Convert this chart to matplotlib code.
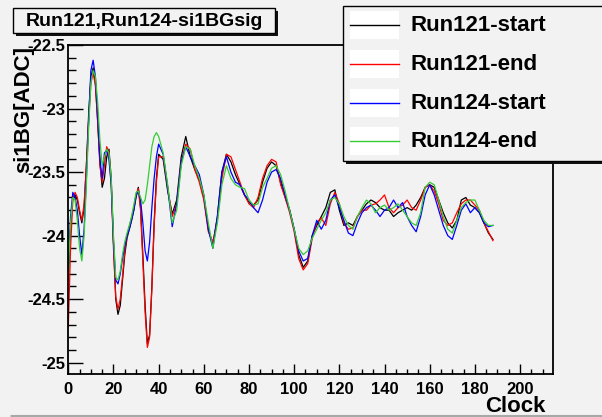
import matplotlib
matplotlib.use("Agg")
import matplotlib.pyplot as plt
from matplotlib.patches import Rectangle
from matplotlib.ticker import MultipleLocator

# ---------------- data ----------------
clocks = list(range(0, 41)) + list(range(42, 190, 2))

run121_start = [
    -24.35, -23.95, -23.70, -23.68, -23.72, -23.82, -23.90, -23.78, -23.45, -23.05,
    -22.75, -22.68, -22.80, -23.10, -23.42, -23.62, -23.55, -23.38, -23.32, -23.55,
    -24.05, -24.50, -24.62, -24.55, -24.35, -24.15, -24.02, -23.95, -23.88, -23.80,
    -23.70, -23.62, -23.78, -24.15, -24.55, -24.85, -24.78, -24.40, -23.90, -23.55,
    -23.36,
    -23.40, -23.65, -23.83, -23.72, -23.38, -23.22, -23.38, -23.48, -23.56, -23.70,
    -23.95, -24.07, -23.85, -23.50, -23.36, -23.42, -23.52, -23.60, -23.68, -23.74,
    -23.76, -23.72, -23.58, -23.47, -23.42, -23.45, -23.58, -23.70, -23.80, -23.95,
    -24.15, -24.25, -24.20, -24.00, -23.92, -23.85, -23.78, -23.66, -23.64, -23.80,
    -23.92, -23.90, -23.92, -23.85, -23.80, -23.75, -23.72, -23.74, -23.78, -23.80,
    -23.80, -23.85, -23.82, -23.80, -23.78, -23.80, -23.76, -23.70, -23.62, -23.60,
    -23.62, -23.72, -23.82, -23.90, -23.94, -23.88, -23.72, -23.70, -23.76, -23.78,
    -23.82, -23.90, -23.98, -24.03,
]

run121_end = [
    -24.72, -24.10, -23.72, -23.66, -23.70, -23.80, -23.88, -23.75, -23.45, -23.10,
    -22.80, -22.72, -22.82, -23.10, -23.45, -23.58, -23.45, -23.30, -23.35, -23.60,
    -24.10, -24.48, -24.58, -24.50, -24.32, -24.12, -24.00, -23.93, -23.86, -23.78,
    -23.68, -23.63, -23.80, -24.20, -24.60, -24.88, -24.80, -24.42, -23.92, -23.58,
    -23.38,
    -23.38, -23.62, -23.85, -23.75, -23.42, -23.28, -23.32, -23.48, -23.58, -23.72,
    -23.97, -24.05, -23.88, -23.55, -23.36, -23.38, -23.48, -23.58, -23.68, -23.75,
    -23.78, -23.70, -23.55, -23.45, -23.40, -23.42, -23.60, -23.70, -23.82, -23.97,
    -24.18, -24.27, -24.22, -24.02, -23.90, -23.86, -23.92, -23.75, -23.66, -23.75,
    -23.90, -23.95, -23.94, -23.85, -23.80, -23.80, -23.76, -23.75, -23.72, -23.68,
    -23.78, -23.82, -23.78, -23.76, -23.72, -23.78, -23.80, -23.72, -23.62, -23.60,
    -23.65, -23.75, -23.88, -23.92, -23.90, -23.82, -23.75, -23.72, -23.72, -23.76,
    -23.80, -23.90, -23.97, -24.04,
]

run124_start = [
    -24.25, -23.85, -23.66, -23.70, -23.80, -24.00, -24.15, -23.95, -23.55, -23.10,
    -22.70, -22.62, -22.75, -23.05, -23.40, -23.55, -23.35, -23.33, -23.40, -23.60,
    -24.05, -24.35, -24.38, -24.30, -24.18, -24.08, -24.00, -23.95, -23.88, -23.80,
    -23.68, -23.65, -23.72, -23.90, -24.12, -24.20, -24.05, -23.78, -23.55, -23.38,
    -23.28,
    -23.36, -23.62, -23.93, -23.75, -23.42, -23.30, -23.38, -23.45, -23.52, -23.68,
    -23.95, -24.10, -23.85, -23.50, -23.38, -23.50, -23.58, -23.60, -23.68, -23.72,
    -23.78, -23.82, -23.72, -23.58, -23.50, -23.48, -23.55, -23.68, -23.80, -23.95,
    -24.12, -24.20, -24.18, -24.00, -23.88, -23.95, -23.88, -23.72, -23.68, -23.78,
    -23.88, -23.98, -24.00, -23.90, -23.82, -23.78, -23.76, -23.80, -23.85, -23.80,
    -23.78, -23.72, -23.78, -23.74, -23.85, -23.92, -23.97, -23.85, -23.68, -23.60,
    -23.68, -23.80, -23.92, -24.00, -24.03, -23.92, -23.80, -23.75, -23.82, -23.78,
    -23.82, -23.90, -23.93, -23.92,
]

run124_end = [
    -24.30, -23.90, -23.70, -23.72, -23.88, -24.10, -24.20, -24.00, -23.60, -23.15,
    -22.80, -22.70, -22.75, -22.95, -23.25, -23.45, -23.38, -23.32, -23.35, -23.55,
    -24.00, -24.33, -24.35, -24.28, -24.15, -24.05, -23.98, -23.92, -23.85, -23.76,
    -23.66, -23.65, -23.70, -23.75, -23.72, -23.60, -23.45, -23.30, -23.22, -23.19,
    -23.22,
    -23.35, -23.60, -23.90, -23.80, -23.45, -23.30, -23.32, -23.45, -23.55, -23.68,
    -23.90, -24.10, -23.90, -23.60, -23.45, -23.55, -23.60, -23.62, -23.63, -23.72,
    -23.76, -23.75, -23.62, -23.55, -23.47, -23.45, -23.52, -23.65, -23.80, -23.95,
    -24.10, -24.15, -24.12, -24.02, -23.95, -23.88, -23.82, -23.72, -23.70, -23.75,
    -23.85, -23.92, -23.95, -23.85, -23.78, -23.72, -23.75, -23.82, -23.78, -23.76,
    -23.80, -23.78, -23.75, -23.80, -23.85, -23.90, -23.92, -23.82, -23.62, -23.58,
    -23.60, -23.72, -23.85, -23.95, -23.98, -23.88, -23.78, -23.74, -23.72, -23.72,
    -23.80, -23.88, -23.92, -23.92,
]

series_names = ["Run121-start", "Run121-end", "Run124-start", "Run124-end"]
series_values = [run121_start, run121_end, run124_start, run124_end]
series_colors = ["#000000", "#ff0000", "#0000ff", "#33cc33"]

title_text = "Run121,Run124-si1BGsig"
x_label = "Clock"
y_label = "si1BG[ADC]"
x_ticks = [0, 20, 40, 60, 80, 100, 120, 140, 160, 180, 200]
y_ticks = [-25, -24.5, -24, -23.5, -23, -22.5]
y_tick_labels = ["-25", "-24.5", "-24", "-23.5", "-23", "-22.5"]

# ---------------- figure ----------------
W, H = 602, 417
BG = "#f2f2f2"
FONT = "Liberation Sans"
plt.rcParams["font.family"] = [FONT, "DejaVu Sans"]
plt.rcParams["font.weight"] = "bold"

fig = plt.figure(figsize=(W / 100, H / 100), dpi=100, facecolor=BG)


def fx(px):
    return px / W


def fy(py):
    return 1 - py / H


ax_left, ax_right, ax_top, ax_bottom = 68.3, 552.8, 45.0, 373.7
ax = fig.add_axes([fx(ax_left), fy(ax_bottom), fx(ax_right) - fx(ax_left),
                   fy(ax_top) - fy(ax_bottom)])
ax.set_facecolor(BG)

for name, vals, col in zip(series_names, series_values, series_colors):
    ax.plot(clocks, vals, color=col, lw=0.9, label=name)

ax.set_xlim(0, 214.5)
ax.set_ylim(-25.087, -22.5)
ax.set_xticks(x_ticks)
ax.set_xticklabels([str(t) for t in x_ticks])
ax.xaxis.set_minor_locator(MultipleLocator(5))
ax.set_yticks(y_ticks)
ax.set_yticklabels(y_tick_labels)
ax.yaxis.set_minor_locator(MultipleLocator(0.1))

ax.tick_params(axis="x", which="major", direction="in", length=7, width=1.0,
               labelsize=12, pad=6, top=False)
ax.tick_params(axis="x", which="minor", direction="in", length=3.3, width=1.0, top=False)
ax.tick_params(axis="y", which="major", direction="in", length=11, width=1.0,
               labelsize=12, pad=2, right=False)
ax.tick_params(axis="y", which="minor", direction="in", length=5.5, width=1.0, right=False)
for lbl in ax.get_xticklabels() + ax.get_yticklabels():
    lbl.set_fontweight("bold")
for s in ax.spines.values():
    s.set_linewidth(1.3)

# axis titles
fig.text(fx(545), fy(412), x_label, ha="right", va="baseline", fontsize=16,
         fontweight="bold")
fig.text(fx(13), fy(46), y_label, ha="right", va="top", rotation=90,
         rotation_mode="anchor", fontsize=16, fontweight="bold")

# overlay in pixel coordinates for boxes
ov = fig.add_axes([0, 0, 1, 1], facecolor="none")
ov.set_xlim(0, W)
ov.set_ylim(H, 0)
ov.axis("off")

# canvas bottom border
ov.plot([10, W], [415.5, 415.5], color="#a8a8a8", lw=2.2, solid_capstyle="butt")

# title box with shadow
ov.add_patch(Rectangle((16, 11), 262, 25, facecolor="#111111", edgecolor="none", zorder=5))
ov.add_patch(Rectangle((13, 8), 262, 25, facecolor=BG, edgecolor="black", lw=1.0, zorder=6))
ov.text(144, 21, title_text, ha="center", va="center", fontsize=14,
        fontweight="bold", zorder=7)

# legend with shadow
ov.add_patch(Rectangle((346, 9), 300, 155, facecolor="#111111", edgecolor="none", zorder=5))
ov.add_patch(Rectangle((343, 6), 300, 154.5, facecolor=BG, edgecolor="black", lw=1.0, zorder=6))
row_y = [25, 63.5, 102.5, 141]
for name, col, yy in zip(series_names, series_colors, row_y):
    ov.add_patch(Rectangle((350, yy - 14), 49, 28, facecolor="white", edgecolor="none", zorder=7))
    ov.plot([350, 399], [yy, yy], color=col, lw=1.0, zorder=8)
    ov.text(410, yy + 0.5, name, ha="left", va="center", fontsize=16,
            fontweight="bold", zorder=8)

fig.savefig("out.png", dpi=100, facecolor=BG)
